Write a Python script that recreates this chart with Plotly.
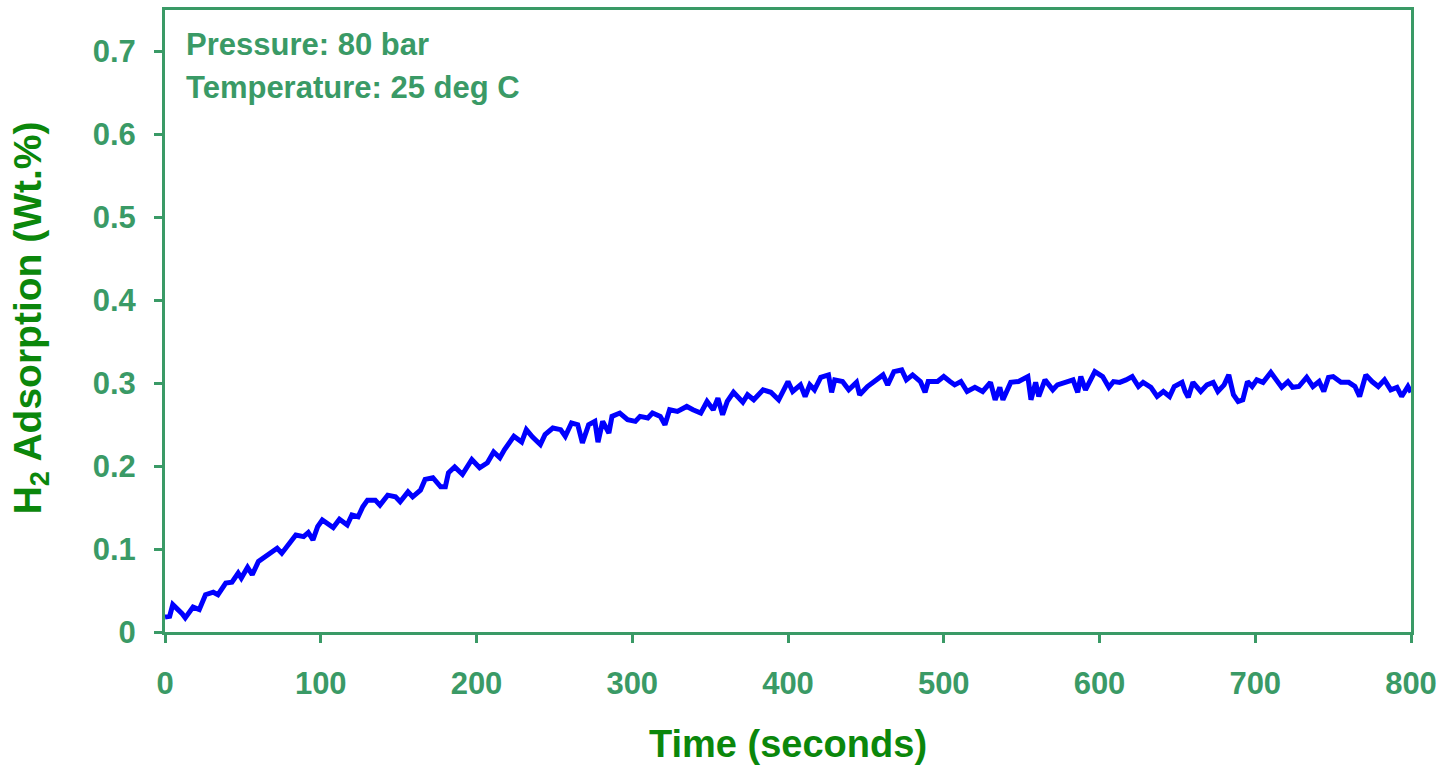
import plotly.graph_objects as go

# Hydrogen uptake vs. time at 80 bar, 25 deg C
time_s = [
    0, 3, 5, 8, 11, 13, 16, 18, 22, 26, 31, 34, 39, 43, 47, 49, 53, 56, 60, 66,
    72, 75, 79, 84, 89, 92, 95, 98, 101, 108, 112, 117, 120, 124, 127, 130, 135,
    138, 143, 148, 151, 156, 159, 164, 167, 172, 177, 180, 182, 186, 191, 197,
    202, 207, 211, 215, 218, 224, 229, 232, 236, 241, 244, 249, 254, 257, 261,
    265, 268, 272, 276, 278, 281, 285, 287, 292, 297, 302, 305, 310, 313, 318,
    321, 324, 329, 335, 339, 344, 348, 352, 355, 358, 361, 365, 371, 374, 378,
    384, 389, 394, 400, 403, 408, 411, 414, 417, 421, 426, 428, 430, 435, 439,
    444, 446, 451, 455, 461, 464, 468, 473, 476, 480, 485, 488, 490, 496, 500,
    504, 507, 511, 515, 520, 525, 530, 533, 536, 538, 543, 548, 554, 556, 559,
    561, 565, 570, 573, 578, 583, 586, 588, 591, 594, 597, 602, 606, 609, 613,
    617, 621, 625, 628, 633, 637, 641, 645, 648, 653, 655, 657, 660, 665, 669,
    673, 676, 680, 683, 686, 689, 692, 695, 698, 701, 705, 710, 714, 717, 721,
    724, 728, 733, 737, 741, 744, 747, 750, 755, 760, 764, 767, 771, 775, 779,
    783, 787, 791, 794, 798, 800,
]
h2_wt_pct = [
    0.018, 0.019, 0.033, 0.028, 0.022, 0.017, 0.024, 0.030, 0.027, 0.045, 0.048,
    0.045, 0.059, 0.060, 0.071, 0.065, 0.078, 0.069, 0.085, 0.093, 0.101, 0.095,
    0.105, 0.117, 0.115, 0.120, 0.111, 0.127, 0.135, 0.126, 0.136, 0.129, 0.141,
    0.139, 0.151, 0.159, 0.159, 0.153, 0.165, 0.163, 0.157, 0.169, 0.163, 0.171,
    0.184, 0.186, 0.175, 0.175, 0.192, 0.199, 0.190, 0.208, 0.198, 0.204, 0.217,
    0.210, 0.220, 0.236, 0.229, 0.244, 0.235, 0.226, 0.238, 0.246, 0.244, 0.236,
    0.252, 0.250, 0.228, 0.250, 0.254, 0.229, 0.254, 0.240, 0.260, 0.264, 0.256,
    0.254, 0.260, 0.258, 0.264, 0.260, 0.250, 0.268, 0.266, 0.272, 0.268, 0.264,
    0.278, 0.268, 0.282, 0.262, 0.278, 0.289, 0.277, 0.286, 0.280, 0.292, 0.289,
    0.280, 0.302, 0.290, 0.298, 0.284, 0.298, 0.292, 0.307, 0.310, 0.289, 0.304,
    0.302, 0.292, 0.301, 0.286, 0.296, 0.302, 0.310, 0.298, 0.314, 0.316, 0.304,
    0.310, 0.302, 0.289, 0.302, 0.302, 0.308, 0.302, 0.298, 0.302, 0.290, 0.295,
    0.290, 0.301, 0.280, 0.295, 0.280, 0.301, 0.302, 0.308, 0.280, 0.301, 0.284,
    0.304, 0.292, 0.298, 0.301, 0.304, 0.289, 0.308, 0.292, 0.302, 0.314, 0.308,
    0.295, 0.302, 0.301, 0.304, 0.308, 0.296, 0.301, 0.295, 0.284, 0.290, 0.284,
    0.296, 0.301, 0.290, 0.283, 0.301, 0.290, 0.298, 0.301, 0.290, 0.298, 0.310,
    0.286, 0.278, 0.280, 0.302, 0.296, 0.304, 0.301, 0.313, 0.304, 0.295, 0.302,
    0.295, 0.296, 0.307, 0.296, 0.302, 0.290, 0.307, 0.308, 0.301, 0.301, 0.296,
    0.284, 0.310, 0.302, 0.296, 0.304, 0.292, 0.295, 0.284, 0.296, 0.289,
]

x_ticks = [0, 100, 200, 300, 400, 500, 600, 700, 800]
y_ticks = [0, 0.1, 0.2, 0.3, 0.4, 0.5, 0.6, 0.7]
y_tick_text = ["0", "0.1", "0.2", "0.3", "0.4", "0.5", "0.6", "0.7"]

AXIS_GREEN = "#3a9a66"
TITLE_GREEN = "#0b870b"
FONT = "Liberation Sans, Arial, sans-serif"

fig = go.Figure()
fig.add_trace(go.Scatter(
    x=time_s, y=h2_wt_pct, mode="lines",
    line=dict(color="#0000ff", width=5),
    showlegend=False,
))

axis_common = dict(
    showline=True, linecolor=AXIS_GREEN, linewidth=3, mirror=True,
    showgrid=False, zeroline=False,
    ticks="outside", ticklen=8, tickwidth=3, tickcolor=AXIS_GREEN,
    tickfont=dict(family=FONT, size=31, color=AXIS_GREEN, weight="bold"),
)

fig.update_xaxes(range=[0, 800], tickvals=x_ticks, ticklabelstandoff=14, **axis_common)
fig.update_yaxes(range=[0, 0.75], tickvals=y_ticks, ticktext=y_tick_text,
                 ticklabelstandoff=12, **axis_common)

fig.add_annotation(
    xref="paper", yref="paper", x=0.5, y=-0.18, yanchor="middle",
    text="Time (seconds)", showarrow=False,
    font=dict(family=FONT, size=38, color=TITLE_GREEN, weight="bold"),
)
fig.add_annotation(
    xref="paper", yref="paper", x=-0.108, y=0.505, xanchor="center", yanchor="middle",
    text="H<sub>2</sub> Adsorption (Wt.%)", textangle=-90, showarrow=False,
    font=dict(family=FONT, size=39, color=TITLE_GREEN, weight="bold"),
)
fig.add_annotation(
    xref="paper", yref="paper", x=0.015, y=0.945, xanchor="left", yanchor="middle",
    text="Pressure: 80 bar", showarrow=False, align="left",
    font=dict(family=FONT, size=31, color=AXIS_GREEN, weight="bold"),
)
fig.add_annotation(
    xref="paper", yref="paper", x=0.015, y=0.876, xanchor="left", yanchor="middle",
    text="Temperature: 25 deg C", showarrow=False, align="left",
    font=dict(family=FONT, size=31, color=AXIS_GREEN, weight="bold"),
)

fig.update_layout(
    width=1442, height=765,
    margin=dict(l=165, r=31, t=10, b=133, autoexpand=False),
    paper_bgcolor="white", plot_bgcolor="white",
)

fig.write_html("out.html")
